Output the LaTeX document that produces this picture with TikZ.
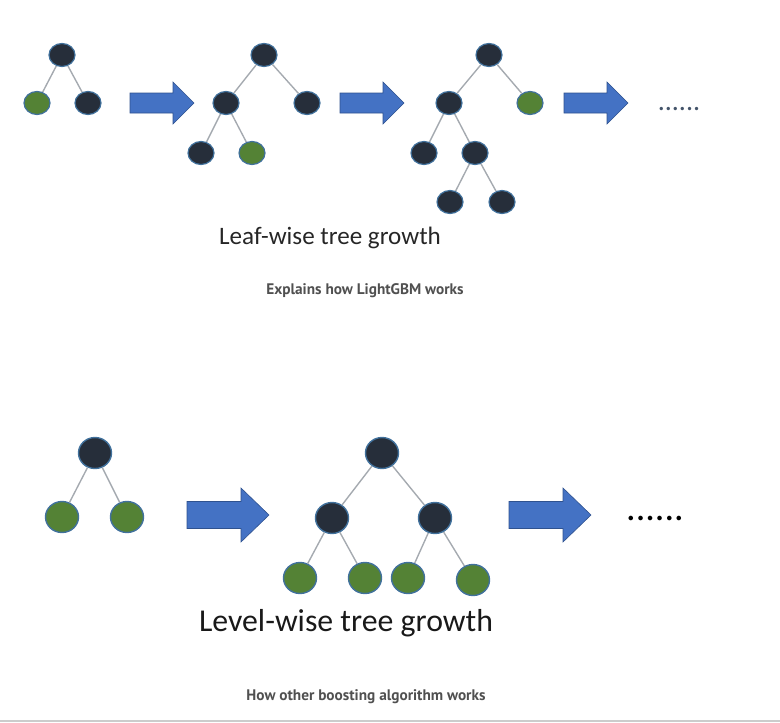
\documentclass[tikz,border=0pt]{standalone}
\usepackage{fontspec}
\setmainfont{Carlito}
\newfontfamily\capfont{PT Sans}
\usetikzlibrary{shapes.geometric}
\definecolor{darkn}{RGB}{38,46,58}
\definecolor{greenn}{RGB}{84,130,53}
\definecolor{rimn}{RGB}{65,113,156}
\definecolor{edgen}{RGB}{165,170,176}
\definecolor{arrfill}{RGB}{68,114,196}
\definecolor{arrrim}{RGB}{47,82,143}
\definecolor{capgray}{RGB}{80,80,80}
\definecolor{dotgray}{RGB}{68,84,106}
\tikzset{
  nodeA/.style={ellipse,draw=rimn,line width=1.2pt,minimum width=26pt,minimum height=23pt,inner sep=0pt},
  nodeB/.style={ellipse,draw=rimn,line width=1.4pt,minimum width=33pt,minimum height=31pt,inner sep=0pt},
  dk/.style={fill=darkn},
  gr/.style={fill=greenn},
  edge/.style={draw=edgen,line width=1.4pt},
  arrowA/.pic={\fill[arrfill,draw=arrrim,line width=0.6pt] (0,-10)--(43,-10)--(43,-21)--(64,0)--(43,21)--(43,10)--(0,10)--cycle;},
  arrowB/.pic={\fill[arrfill,draw=arrrim,line width=0.6pt] (0,-13.5)--(54,-13.5)--(54,-27)--(82,0)--(54,27)--(54,13.5)--(0,13.5)--cycle;},
  caption/.style={font=\capfont\bfseries\fontsize{15.3}{17}\selectfont,text=capgray,inner sep=0pt},
}
\begin{document}
\begin{tikzpicture}[x=1pt,y=-1pt]
\useasboundingbox (0,0) rectangle (780,723);
% ---------- Leaf-wise ----------
% tree 1
\node[nodeA,dk] (a1) at (62,55) {};
\node[nodeA,gr] (a2) at (37,103) {};
\node[nodeA,dk] (a3) at (88,103) {};
\draw[edge] (a1)--(a2) (a1)--(a3);
\pic at (130,103) {arrowA};
% tree 2
\node[nodeA,dk] (b1) at (264,55) {};
\node[nodeA,dk] (b2) at (226,103) {};
\node[nodeA,dk] (b3) at (307,103) {};
\node[nodeA,dk] (b4) at (201,153) {};
\node[nodeA,gr] (b5) at (252,153) {};
\draw[edge] (b1)--(b2) (b1)--(b3) (b2)--(b4) (b2)--(b5);
\pic at (340,103) {arrowA};
% tree 3
\node[nodeA,dk] (c1) at (489,55) {};
\node[nodeA,dk] (c2) at (449,103) {};
\node[nodeA,gr] (c3) at (530,103) {};
\node[nodeA,dk] (c4) at (424,153) {};
\node[nodeA,dk] (c5) at (475,153) {};
\node[nodeA,dk] (c6) at (450,202) {};
\node[nodeA,dk] (c7) at (502,202) {};
\draw[edge] (c1)--(c2) (c1)--(c3) (c2)--(c4) (c2)--(c5) (c5)--(c6) (c5)--(c7);
\pic at (564,103) {arrowA};
\node[text=dotgray,font=\fontsize{28}{28}\selectfont,inner sep=0pt] (dotsA) at (679,109) {......};
\node[font=\fontsize{25.1}{29}\selectfont,text=black!85,inner sep=0pt] (titleA) at (330,238) {Leaf-wise tree growth};
\node[caption] (capA) at (365,291) {Explains how LightGBM works};
% ---------- Level-wise ----------
\node[nodeB,dk] (d1) at (95,453) {};
\node[nodeB,gr] (d2) at (62,517) {};
\node[nodeB,gr] (d3) at (127,517) {};
\draw[edge] (d1)--(d2) (d1)--(d3);
\pic at (187,515) {arrowB};
\node[nodeB,dk] (e1) at (382,453) {};
\node[nodeB,dk] (e2) at (332,518) {};
\node[nodeB,dk] (e3) at (435,518) {};
\node[nodeB,gr] (e4) at (300,578) {};
\node[nodeB,gr] (e5) at (365,578) {};
\node[nodeB,gr] (e6) at (408,578) {};
\node[nodeB,gr] (e7) at (473,580) {};
\draw[edge] (e1)--(e2) (e1)--(e3) (e2)--(e4) (e2)--(e5) (e3)--(e6) (e3)--(e7);
\pic at (509,515) {arrowB};
\node[text=black,font=\fontsize{38}{38}\selectfont,inner sep=0pt] (dotsB) at (655,518) {......};
\node[font=\fontsize{31.8}{37}\selectfont,text=black!90,inner sep=0pt] (titleB) at (346,623) {Level-wise tree growth};
\node[caption] (capB) at (366,697) {How other boosting algorithm works};
\draw[black!20,line width=1.2pt] (0,721) -- (780,721);
\end{tikzpicture}
\end{document}
